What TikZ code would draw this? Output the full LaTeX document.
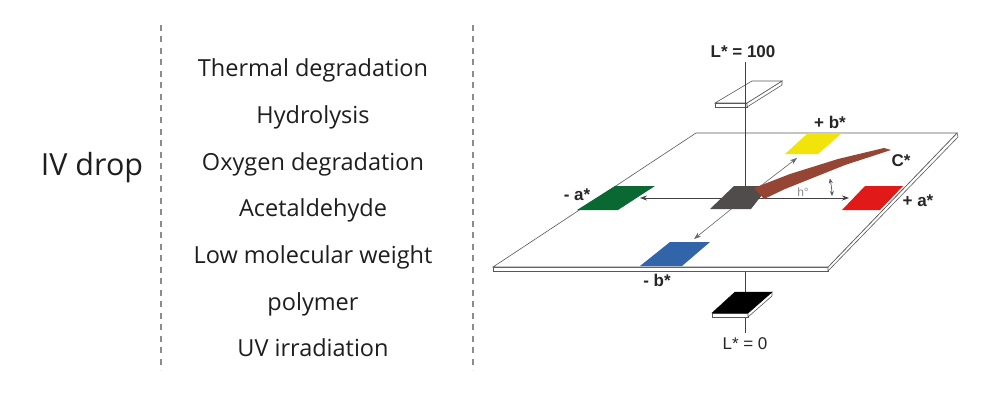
\documentclass[tikz,border=0pt]{standalone}
\usepackage{fontspec}
\setmainfont{Open Sans}
\newfontfamily\arialf{Liberation Sans}
\usetikzlibrary{arrows.meta,calc}
\definecolor{cgreen}{RGB}{10,105,50}
\definecolor{cyellow}{RGB}{240,228,10}
\definecolor{cred}{RGB}{225,25,25}
\definecolor{cblue}{RGB}{50,100,170}
\definecolor{cdark}{RGB}{80,76,76}
\definecolor{cbrown}{RGB}{150,68,52}
\definecolor{txt}{RGB}{30,30,30}
\begin{document}
\begin{tikzpicture}[x=1pt,y=-1pt,
  divider/.style={draw=black!45, line width=1.5pt, dash pattern=on 6pt off 5.5pt},
  item/.style={font=\fontsize{23.5}{26}\selectfont, text=txt, inner sep=0pt, anchor=base},
  big/.style={font=\fontsize{30.5}{33}\selectfont, text=txt, inner sep=0pt, anchor=base},
  lab/.style={font=\arialf\bfseries\fontsize{17}{19}\selectfont, text=black!85, inner sep=0pt},
  labr/.style={font=\arialf\fontsize{17}{19}\selectfont, text=black!85, inner sep=0pt},
  edge/.style={draw=black!65, line width=0.6pt},
  axis/.style={draw=black!75, line width=0.8pt},
  tip/.style={-{Stealth[length=7pt,width=5pt]}},
  tile/.style={draw=black!55, line width=0.4pt}
]
\useasboundingbox (0,0) rectangle (1000,409);
\fill[white] (0,0) rectangle (1000,409);

% ---------- left part ----------
\coordinate (d1t) at (161,25); \coordinate (d1b) at (161,370);
\coordinate (d2t) at (473,25); \coordinate (d2b) at (473,370);
\draw[divider] (d1t) -- (d1b);
\draw[divider] (d2t) -- (d2b);
\node[big] (iv) at (92,175) {IV drop};
\node[item] (t1) at (313,76.7) {Thermal degradation};
\node[item] (t2) at (313,123.3) {Hydrolysis};
\node[item] (t3) at (313,170) {Oxygen degradation};
\node[item] (t4) at (313,216.7) {Acetaldehyde};
\node[item] (t5) at (313,263.3) {Low molecular weight};
\node[item] (t6) at (313,310) {polymer};
\node[item] (t7) at (313,356.7) {UV irradiation};

% ---------- right part ----------
\coordinate (Ltop) at (745,62);
\coordinate (Lbot) at (745,333);
\coordinate (cDark) at (745,198);
\coordinate (pLow) at (745,271);
% lower part of L axis
\draw[axis,line width=0.7pt] (pLow) -- (Lbot);

% plane slab
\coordinate (pTL) at (696,133); \coordinate (pTR) at (957,133);
\coordinate (pBR) at (828,267); \coordinate (pBL) at (493,267);
\filldraw[fill=white, edge] (pBL) -- (pBR) -- ($(pBR)+(0,4)$) -- ($(pBL)+(0,4)$) -- cycle;
\filldraw[fill=white, edge] (pBR) -- (pTR) -- ($(pTR)+(1,4)$) -- ($(pBR)+(0,4)$) -- cycle;
\filldraw[fill=white, edge] (pTL) -- (pTR) -- (pBR) -- (pBL) -- cycle;

% white tile slab (L* = 100)
\coordinate (wTL) at (752,81); \coordinate (wTR) at (782,81);
\coordinate (wBR) at (747,103); \coordinate (wBL) at (715,103);
\filldraw[fill=white, edge] (wBL) -- (wBR) -- ($(wBR)+(0,4)$) -- ($(wBL)+(0,4)$) -- cycle;
\filldraw[fill=white, edge] (wBR) -- (wTR) -- ($(wTR)+(0,4)$) -- ($(wBR)+(0,4)$) -- cycle;
\filldraw[fill=white, edge] (wTL) -- (wTR) -- (wBR) -- (wBL) -- cycle;

% upper L axis
\draw[axis,line width=0.7pt] (Ltop) -- (cDark);

% a and b axes
\coordinate (aPlus) at (849,198);
\coordinate (aMinus) at (640,198);
\coordinate (bPlus) at (797,158);
\coordinate (bMinus) at (694,239);
\draw[axis,tip] (cDark) -- (aPlus);
\draw[axis,tip] (cDark) -- (aMinus);
\draw[axis,black!60,line width=0.6pt,tip] (cDark) -- (bPlus);
\draw[axis,black!60,line width=0.6pt,tip] (cDark) -- (bMinus);

% colour tiles
\fill[cyellow] (785,154) -- (818,154) -- (842,133) -- (808,133) -- cycle;
\fill[cred] (842,210) -- (880,210) -- (903,186) -- (865,186) -- cycle;
\fill[cgreen] (577,210) -- (618,210) -- (655,186) -- (615,186) -- cycle;
\fill[cblue] (640,266) -- (682,266) -- (710,242) -- (670,242) -- cycle;
\fill[cdark] (710,209) -- (751,209) -- (769,186) -- (734,186) -- cycle;

% C* wedge
\fill[cbrown] (754,188) -- (790,174) -- (838,159) -- (884,148) -- (891,150)
   -- (845,165) -- (815,177) -- (785,189) -- (764,199) -- cycle;

% hue angle arc
\draw[black!65, line width=0.7pt, {Stealth[length=5pt,width=4pt]}-{Stealth[length=5pt,width=4pt]}]
  ($(cDark)+(87,-2)$) arc[start angle=-1.3, end angle=-13, radius=87];
\node[font=\arialf\fontsize{12}{14}\selectfont, text=black!45, inner sep=0pt] (hue) at (803,192) {h°};

% black tile slab (L* = 0)
\coordinate (kTL) at (735,292); \coordinate (kTR) at (772,292);
\coordinate (kBR) at (748,313); \coordinate (kBL) at (712,313);
\filldraw[fill=white, edge] (kBL) -- (kBR) -- ($(kBR)+(0,4)$) -- ($(kBL)+(0,4)$) -- cycle;
\filldraw[fill=white, edge] (kBR) -- (kTR) -- ($(kTR)+(0,4)$) -- ($(kBR)+(0,4)$) -- cycle;
\filldraw[fill=black, draw=black] (kTL) -- (kTR) -- (kBR) -- (kBL) -- cycle;

% labels
\node[lab] (L100) at (743,52) {L* = 100};
\node[labr] (L0) at (745,344) {L* = 0};
\node[lab] (bp) at (830,122) {+ b*};
\node[lab] (bm) at (657,280) {- b*};
\node[lab] (ap) at (918,201) {+ a*};
\node[lab] (am) at (577,195) {- a*};
\node[lab] (cs) at (901,161) {C*};
\end{tikzpicture}
\end{document}
